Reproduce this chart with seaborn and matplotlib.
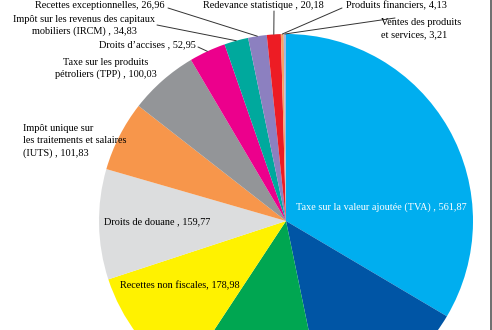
import numpy as np
import matplotlib
matplotlib.use("Agg")
import matplotlib.pyplot as plt
import seaborn as sns

# ---- data (clockwise from 12 o'clock) ----
categories = [
    "Taxe sur la valeur ajoutée (TVA)",
    "Impôt sur les bénéfices",
    "Autres recettes fiscales",
    "Recettes non fiscales",
    "Droits de douane",
    "Impôt unique sur\nles traitements et salaires\n(IUTS)",
    "Taxe sur les produits\npétroliers (TPP)",
    "Droits d’accises",
    "Impôt sur les revenus des capitaux\nmobiliers (IRCM)",
    "Recettes exceptionnelles",
    "Redevance statistique",
    "Produits financiers",
    "Ventes des produits\net services",
]
values = [561.87, 222.0, 210.0, 178.98, 159.77, 101.83, 100.03,
          52.95, 34.83, 26.96, 20.18, 4.13, 3.21]
value_labels = ["561,87", "", "", "178,98", "159,77", "101,83", "100,03",
                "52,95", "34,83", "26,96", "20,18", "4,13", "3,21"]
separators = [" , ", "", "", ", ", " , ", " , ", " , ", " , ", " , ", ", ",
              " , ", ", ", ", "]
colors = ["#00AEEF", "#0055A5", "#00A651", "#FFF200", "#DCDDDE", "#F7964B",
          "#939598", "#EC008C", "#00A99D", "#8C80C0", "#ED1C24", "#F5A266",
          "#A3B6DE"]

sns.set_theme(style="white")
plt.rcParams["font.family"] = ["Liberation Serif", "DejaVu Serif"]

W, H = 492, 330
fig = plt.figure(figsize=(W / 100, H / 100), dpi=100)
ax = fig.add_axes([0, 0, 1, 1])

cx, cy, R = 286, H - 221, 187
wedges, _ = ax.pie(values, colors=sns.color_palette(colors), startangle=90,
                   counterclock=False, center=(cx, cy), radius=R,
                   wedgeprops=dict(linewidth=0), frame=True)
ax.set_xlim(0, W)
ax.set_ylim(0, H)
ax.set_aspect("equal")
ax.axis("off")


def label(i):
    return categories[i] + separators[i] + value_labels[i]


def edge_point(i, rr=1.0):
    w = wedges[i]
    th = np.deg2rad((w.theta1 + w.theta2) / 2)
    return cx + R * rr * np.cos(th), cy + R * rr * np.sin(th)


fs = 7.4
# (index, text x, text y (image coords), ha, color, leader start (image coords) or None)
placements = [
    (0, 381, 207, "center", "white", None),
    (3, 180, 286, "center", "black", None),
    (4, 157, 222, "center", "black", None),
    (5, 23, 141, "left", "black", None),
    (6, 106, 68.5, "center", "black", None),
    (7, 147, 45, "center", "black", (198, 47)),
    (8, 84, 25.5, "center", "black", (157, 25)),
    (9, 100, 6, "center", "black", (168, 8)),
    (10, 263, 6, "center", "black", (274, 11)),
    (11, 396, 6, "center", "black", (342, 8)),
    (12, 381, 29, "left", "black", (395, 18)),
]
for i, tx, ty, ha, col, lead in placements:
    ax.text(tx, H - ty, label(i), ha=ha, va="center", fontsize=fs,
            color=col, linespacing=1.45)
    if lead is not None:
        ex, ey = edge_point(i)
        ax.plot([lead[0], ex], [H - lead[1], ey], color="#333333", lw=0.7)

ax.plot([W - 1, W - 1], [0, H], color="#555555", lw=1.2)

fig.savefig("out.png", dpi=100)
